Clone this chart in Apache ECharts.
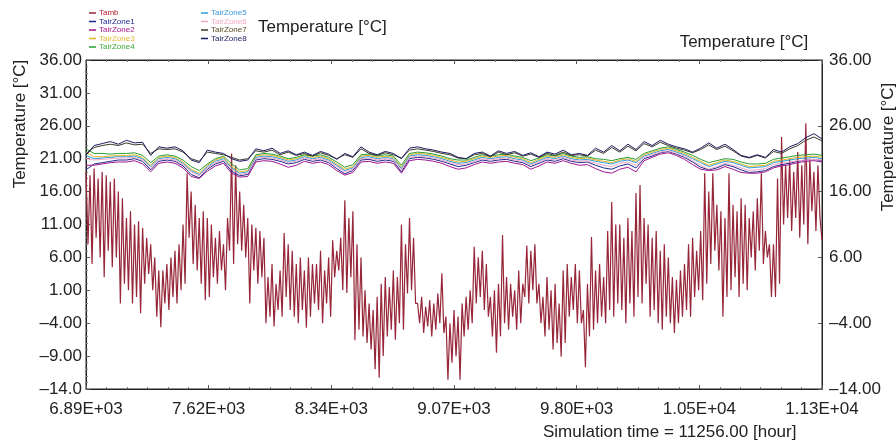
<!DOCTYPE html>
<html>
<head>
<meta charset="utf-8">
<script src="https://cdn.jsdelivr.net/npm/echarts/dist/echarts.min.js"></script>
<style>
html, body { margin: 0; padding: 0; background: #fff; }
#chart { width: 896px; height: 443px; }
</style>
</head>
<body>
<div id="chart"></div>
<script>
// time axis (hours of simulation)
const tStart = 6888;
const tEnd = 11256;
const tambStep = 12;   // Tamb sampled twice a day
const zoneStep = 48;   // zone temperatures sampled every two days

const xTicks = [6888, 7616, 8344, 9072, 9800, 10528, 11256];
const leftTicks = [36, 31, 26, 21, 16, 11, 6, 1, -4, -9, -14];
const rightTicks = [36, 26, 16, 6, -4, -14];

const seriesNames = ['Tamb', 'TairZone1', 'TairZone2', 'TairZone3', 'TairZone4',
    'TairZone5', 'TairZone6', 'TairZone7', 'TairZone8'];

// ambient temperature, day high / low
const tamb = [
    19, 8, 18.5, 5, 19.5, 9, 18, 6, 19, 3,
    18.5, 7, 17.5, 4.5, 18, 6, 16, -1, 15, 2,
    12, 1, 13, -1, 11, 0, 11.5, -2.5, 10.5, 2,
    9, 3.5, 8, 1, 6, -3, 4, -4.6, 4, -1,
    5, -2, 6, 0, 7, -1, 8, 1, 11, 2,
    18.8, 9, 16, 5, 14, 4, 12, 2, 13, -0.5,
    12, 0, 11, 3, 9, 2, 10, 4, 8, 1,
    12, 7, 21.8, 5, 20, 8, 16, 7, 14, 6,
    12, -1, 11, 4, 10.5, 2, 10, 3, 9, -4,
    3, -3, 5, -4.5, 2, -2, 4, -3, 9.7, 0,
    8, -2, 7, -3, 5, -4, 6, -2, 4, -4.7,
    6, -3, 5, -1, 5, -2, 7, -4, 4, -1,
    6, -3, 8.6, 3, 7, 4, 9, 1, 14.7, 0.6,
    12, 3, 13, -6.6, 8, -5, 6, -6, 1, -7,
    -1, -8, -2, -11, 0, -12.3, 2, -9, 3, -6,
    1.5, -5, 4, -6.5, 3, -4, 11, -5, 8, 0.5,
    12, 1, 9, -1, -1, -4, 0, -5.5, -1.5, -4.5,
    -0.5, -6, -1, -5, 0.5, -4, 3.6, -5.5, -3, -12.6,
    -4, -10, -2, -9, -3, -12.6, -1, -6, 0, -5,
    1, -4, 7.6, -1, 6, 0, 7, -2, 5, -3,
    0, -6, 1, -8.5, 2, -6, 9.4, -4, 3, -5,
    2, -3, 1, -5, 4, -4, 2, 0, 7.8, -1,
    7, 1, 8, -1, 2, -4, 0, -6, 3, -5,
    1, -8, 2, -7, -1, -9.1, 4, -7, 5, -3,
    3, -2, 5, -4, 4, -4, -2, -10.7, 2, -6,
    9.1, -5, 4, -4, 5, -3, 3, -4, 10, -2,
    14.4, -3, 11, -1, 11, -2, 9, -4, 12, -1,
    10, -3, 15.8, 0, 17, -1, 12, 2, 11, -3,
    9, -2, 10, -4, 7, -5, 8, -3, 6, -4,
    3, -5.5, 2.6, -4, 4, -3, 5, -2, 8, -3,
    9, 0, 7, 1, 10, -0.5, 18.8, 2, 16, 5,
    18.8, 7, 14, 4, 13, -3, 12, 0, 18.8, 1,
    14, 3, 13, 0, 15, 2, 14, 1, 12, 6,
    13, 4, 15, 7, 18.8, 5, 10, 6, 8, 0,
    8, 0, 18, 2, 24.3, 11, 20, 12, 21, 10,
    19, 12, 22, 9, 20, 11, 26.4, 8, 21, 13,
    19, 10, 20, 12,
    8.6
];

const zone1 = [
    19.3, 20.2, 20.4, 20.6, 20.8, 20.8, 21.0, 20.6, 19.3, 20.6,
    20.8, 20.6, 19.9, 18.6, 18.1, 19.4, 20.2, 20.6, 19.1, 18.4,
    18.6, 20.8, 21.0, 20.9, 20.6, 20.2, 20.4, 20.9, 20.6, 20.8,
    20.4, 19.5, 18.7, 19.2, 20.8, 20.9, 20.6, 20.8, 20.6, 19.0,
    21.0, 21.2, 21.1, 20.9, 20.6, 20.2, 19.8, 20.0, 20.4, 20.8,
    20.6, 20.8, 20.9, 20.6, 20.4, 19.8, 20.3, 20.8, 20.6, 21.0,
    20.6, 20.4, 20.5, 20.0, 19.6, 19.4, 19.9, 20.2, 19.6, 21.0,
    21.4, 21.9, 22.1, 21.7, 21.2, 20.5, 19.7, 19.3, 19.6, 20.1,
    19.8, 19.3, 18.9, 19.0, 19.2, 19.8, 20.1, 20.3, 20.6, 20.8,
    20.9, 20.7
];
const zone2 = [
    20.0, 20.0, 20.2, 20.4, 20.5, 20.5, 20.7, 20.2, 19.0, 20.3,
    20.5, 20.3, 19.6, 18.3, 18.0, 19.1, 19.9, 20.3, 18.8, 18.2,
    18.3, 20.5, 20.7, 20.6, 20.2, 19.7, 20.0, 20.6, 20.3, 20.5,
    20.1, 19.2, 18.5, 18.9, 20.5, 20.6, 20.3, 20.5, 20.3, 18.8,
    20.7, 20.9, 20.8, 20.6, 20.3, 19.8, 19.4, 19.6, 20.1, 20.5,
    20.3, 20.5, 20.6, 20.3, 20.1, 19.4, 19.9, 20.5, 20.3, 20.7,
    20.3, 20.0, 20.1, 19.5, 19.0, 18.8, 19.4, 19.7, 19.0, 20.7,
    21.2, 21.7, 21.9, 21.5, 20.9, 20.1, 19.4, 19.2, 19.3, 19.8,
    19.4, 18.9, 18.8, 18.8, 19.0, 19.6, 19.9, 20.1, 20.4, 20.6,
    20.7, 20.5
];
const zone3 = [
    22.0, 21.3, 21.3, 21.4, 21.5, 21.5, 21.6, 21.2, 20.0, 21.2,
    21.4, 21.2, 20.5, 19.4, 18.8, 20.0, 20.8, 21.2, 19.8, 19.0,
    19.2, 21.4, 21.6, 21.5, 21.2, 20.8, 21.0, 21.5, 21.2, 21.4,
    21.0, 20.2, 19.4, 19.8, 21.4, 21.5, 21.2, 21.4, 21.2, 19.7,
    21.6, 21.8, 21.7, 21.5, 21.2, 20.8, 20.5, 20.6, 21.0, 21.4,
    21.2, 21.4, 21.5, 21.2, 21.0, 20.4, 20.9, 21.4, 21.2, 21.6,
    21.2, 21.0, 21.1, 20.8, 20.6, 20.4, 20.8, 21.0, 20.6, 21.6,
    22.0, 22.4, 22.6, 22.2, 21.8, 21.2, 20.6, 20.0, 20.4, 20.8,
    20.6, 20.2, 19.8, 19.9, 20.0, 20.6, 20.8, 21.0, 21.2, 21.3,
    21.4, 21.2
];
const zone4 = [
    22.5, 21.8, 21.8, 21.7, 21.8, 21.8, 21.9, 21.5, 20.4, 21.4,
    21.6, 21.4, 20.8, 19.8, 19.2, 20.2, 21.0, 21.4, 20.2, 19.3,
    19.5, 21.6, 21.8, 21.7, 21.4, 21.0, 21.2, 21.6, 21.4, 21.6,
    21.2, 20.5, 19.7, 20.1, 21.6, 21.7, 21.4, 21.6, 21.4, 20.0,
    21.8, 22.0, 21.9, 21.7, 21.4, 21.0, 20.8, 20.8, 21.2, 21.6,
    21.4, 21.6, 21.7, 21.4, 21.2, 20.7, 21.1, 21.6, 21.4, 21.8,
    21.4, 21.2, 21.3, 21.0, 20.9, 20.7, 21.0, 21.2, 20.9, 21.8,
    22.2, 22.6, 22.8, 22.4, 22.0, 21.5, 20.9, 20.4, 20.7, 21.0,
    20.9, 20.5, 20.2, 20.2, 20.3, 20.9, 21.1, 21.3, 21.5, 21.6,
    21.7, 21.5
];
const zone5 = [
    21.5, 21.0, 21.1, 21.2, 21.3, 21.3, 21.4, 21.0, 19.8, 21.0,
    21.2, 21.0, 20.3, 19.2, 18.6, 19.8, 20.6, 21.0, 19.6, 18.8,
    19.0, 21.2, 21.4, 21.3, 21.0, 20.6, 20.8, 21.3, 21.0, 21.2,
    20.8, 20.0, 19.2, 19.6, 21.2, 21.3, 21.0, 21.2, 21.0, 19.5,
    21.4, 21.6, 21.5, 21.3, 21.0, 20.6, 20.3, 20.4, 20.8, 21.2,
    21.0, 21.2, 21.3, 21.0, 20.8, 20.2, 20.7, 21.2, 21.0, 21.4,
    21.0, 20.8, 20.9, 20.6, 20.4, 20.2, 20.6, 20.8, 20.4, 21.4,
    21.8, 22.2, 22.4, 22.0, 21.6, 21.0, 20.4, 19.8, 20.2, 20.6,
    20.4, 20.0, 19.6, 19.7, 19.8, 20.4, 20.6, 20.8, 21.0, 21.1,
    21.2, 21.0
];
const zone6 = [
    21.0, 20.8, 20.9, 21.0, 21.1, 21.1, 21.2, 20.8, 19.5, 20.8,
    21.0, 20.8, 20.1, 19.0, 18.4, 19.6, 20.4, 20.8, 19.4, 18.6,
    18.8, 21.0, 21.2, 21.1, 20.8, 20.4, 20.6, 21.1, 20.8, 21.0,
    20.6, 19.8, 19.0, 19.4, 21.0, 21.1, 20.8, 21.0, 20.8, 19.3,
    21.2, 21.4, 21.3, 21.1, 20.8, 20.4, 20.1, 20.2, 20.6, 21.0,
    20.8, 21.0, 21.1, 20.8, 20.6, 20.0, 20.5, 21.0, 20.8, 21.2,
    20.8, 20.6, 20.7, 20.3, 20.0, 19.8, 20.3, 20.5, 20.0, 21.2,
    21.6, 22.0, 22.2, 21.8, 21.4, 20.7, 20.0, 19.4, 19.8, 20.3,
    20.0, 19.6, 19.2, 19.3, 19.5, 20.1, 20.3, 20.5, 20.7, 20.8,
    20.9, 20.8
];
const zone7 = [
    21.8, 22.7, 23.0, 23.2, 23.0, 23.4, 23.1, 23.2, 21.8, 22.5,
    22.4, 22.5, 22.0, 21.0, 20.6, 22.0, 21.8, 21.6, 21.2, 20.8,
    21.0, 22.2, 22.0, 22.3, 21.6, 22.0, 21.5, 21.8, 21.4, 21.9,
    21.5, 21.0, 21.6, 21.2, 22.5, 21.8, 21.5, 21.9, 21.6, 21.1,
    22.3, 22.5, 22.3, 22.1, 21.8, 21.6, 21.1, 21.0, 21.6, 21.8,
    21.3, 22.0, 21.6, 21.9, 21.4, 21.7, 21.2, 21.8, 21.5, 22.0,
    21.5, 21.6, 21.4, 22.3, 21.8, 22.7, 22.0, 22.9, 22.2, 23.3,
    22.8, 23.5, 23.0, 22.6, 22.3, 21.9, 22.4, 23.1, 22.4, 22.9,
    22.2, 21.4, 21.1, 21.5, 21.1, 22.1, 21.8, 22.5, 23.0, 23.8,
    24.3, 23.7
];
const zone8 = [
    21.5, 23.0, 23.3, 23.6, 23.2, 23.8, 23.4, 23.5, 21.5, 22.8,
    22.6, 22.8, 22.2, 20.8, 20.4, 22.3, 22.0, 21.8, 21.0, 20.6,
    20.8, 22.5, 22.2, 22.6, 21.8, 22.2, 21.6, 22.0, 21.5, 22.1,
    21.7, 20.9, 21.8, 21.3, 22.8, 22.0, 21.6, 22.1, 21.8, 21.0,
    22.6, 22.8, 22.5, 22.3, 22.0, 21.8, 21.2, 21.0, 21.8, 22.0,
    21.4, 22.2, 21.8, 22.1, 21.5, 21.9, 21.3, 22.0, 21.7, 22.3,
    21.6, 21.8, 21.5, 22.6, 22.0, 23.0, 22.2, 23.2, 22.4, 23.6,
    23.0, 23.8, 23.2, 22.8, 22.5, 22.0, 22.6, 23.4, 22.6, 23.2,
    22.4, 21.5, 21.2, 21.6, 21.2, 22.4, 22.0, 22.8, 23.3, 24.2,
    24.8, 24.0
];

const lineColors = ['#962638', '#1f2a8c', '#a1168e', '#e6b422', '#2b9e34',
    '#2f9fd6', '#f2a6c8', '#3b3a26', '#1b1d62'];
const textColors = ['#b0182c', '#1f2a8c', '#a1168e', '#e8b830', '#3aa83a',
    '#3a98d8', '#f4a8c8', '#5a4a24', '#1b1d62'];

const FONT = '"Liberation Sans", Arial, sans-serif';

function pairs(values, step) {
    return values.map((v, i) => [tStart + i * step, v]);
}

function sci(v) {
    const e = Math.floor(Math.log10(v));
    const m = v / Math.pow(10, e);
    return m.toFixed(2) + 'E+' + String(e).padStart(2, '0');
}

function leftLabel(v) {
    let s = v.toFixed(2);
    if (s.length > 5) s = s.slice(0, 5);
    return s.replace('-', '\u2013');
}

function rightLabel(v) {
    return v.toFixed(2).replace('-', '\u2013');
}

function legendItems(names) {
    return names.map(n => ({
        name: n,
        textStyle: { color: textColors[seriesNames.indexOf(n)] },
    }));
}

function getOption() {
    const allData = [pairs(tamb, tambStep), pairs(zone1, zoneStep), pairs(zone2, zoneStep),
        pairs(zone3, zoneStep), pairs(zone4, zoneStep), pairs(zone5, zoneStep),
        pairs(zone6, zoneStep), pairs(zone7, zoneStep), pairs(zone8, zoneStep)];

    const legendBase = {
        orient: 'vertical',
        top: 4,
        itemWidth: 7,
        itemHeight: 1.5,
        itemGap: 0.5,
        icon: 'rect',
        selectedMode: false,
        textStyle: { fontSize: 8, lineHeight: 8, fontFamily: FONT, padding: [0, 0, 0, -2] },
    };

    const xBase = {
        type: 'value',
        min: tStart, max: tEnd, interval: xTicks[1] - xTicks[0],
        axisLine: { onZero: false, lineStyle: { color: '#222' } },
        axisTick: { inside: true, length: 4, lineStyle: { color: '#555' } },
        minorTick: { show: true, splitNumber: 6, length: 2, lineStyle: { color: '#777' } },
        splitLine: { show: false },
    };

    return {
        animation: false,
        backgroundColor: '#fff',
        textStyle: { fontFamily: FONT },
        grid: {
            left: 86, right: 74, top: 60, bottom: 54,
            show: true, borderColor: '#222', borderWidth: 1,
        },
        legend: [
            Object.assign({}, legendBase, { left: 84, data: legendItems(seriesNames.slice(0, 5)) }),
            Object.assign({}, legendBase, { left: 196, data: legendItems(seriesNames.slice(5)) }),
        ],
        xAxis: [
            Object.assign({}, xBase, {
                axisLabel: {
                    formatter: sci, color: '#222', fontSize: 17, margin: 12,
                    fontFamily: FONT,
                },
            }),
            Object.assign({}, xBase, { position: 'top', axisLabel: { show: false } }),
        ],
        yAxis: [
            {
                type: 'value',
                min: leftTicks[leftTicks.length - 1], max: leftTicks[0],
                interval: leftTicks[0] - leftTicks[1],
                axisLine: { show: true, onZero: false, lineStyle: { color: '#222' } },
                axisTick: { show: true, inside: true, length: 4, lineStyle: { color: '#555' } },
                minorTick: { show: true, splitNumber: 5, length: 2, lineStyle: { color: '#888' } },
                splitLine: { show: false },
                axisLabel: {
                    formatter: leftLabel, color: '#222', fontSize: 17, margin: 4,
                    fontFamily: FONT,
                },
            },
            {
                type: 'value', position: 'right',
                min: rightTicks[rightTicks.length - 1], max: rightTicks[0],
                interval: rightTicks[0] - rightTicks[1],
                axisLine: { show: true, onZero: false, lineStyle: { color: '#222' } },
                axisTick: { show: true, inside: true, length: 4, lineStyle: { color: '#555' } },
                splitLine: { show: false },
                axisLabel: {
                    formatter: rightLabel, color: '#222', fontSize: 17, margin: 7,
                    fontFamily: FONT,
                },
            },
        ],
        series: seriesNames.map((name, i) => ({
            name: name,
            type: 'line',
            data: allData[i],
            showSymbol: false,
            symbol: 'none',
            color: lineColors[i],
            lineStyle: { width: i === 0 ? 1.2 : 1, color: lineColors[i] },
            emphasis: { disabled: true },
            z: 2 + i,
        })),
        graphic: [
            {
                type: 'text', x: 258, y: 27,
                style: { text: 'Temperature [°C]', font: '17px ' + FONT, fill: '#222', align: 'left', verticalAlign: 'middle' },
            },
            {
                type: 'text', x: 744, y: 42,
                style: { text: 'Temperature [°C]', font: '17px ' + FONT, fill: '#222', align: 'center', verticalAlign: 'middle' },
            },
            {
                type: 'text', x: 543, y: 432,
                style: { text: 'Simulation time = 11256.00 [hour]', font: '17px ' + FONT, fill: '#222', align: 'left', verticalAlign: 'middle' },
            },
            {
                type: 'text', x: 20, y: 124, rotation: Math.PI / 2,
                style: { text: 'Temperature [°C]', font: '17px ' + FONT, fill: '#222', align: 'center', verticalAlign: 'middle' },
            },
            {
                type: 'text', x: 888, y: 147, rotation: Math.PI / 2,
                style: { text: 'Temperature [°C]', font: '17px ' + FONT, fill: '#222', align: 'center', verticalAlign: 'middle' },
            },
        ],
    };
}

const chart = echarts.init(document.getElementById('chart'), null, { renderer: 'canvas' });
chart.setOption(getOption());
</script>
</body>
</html>
